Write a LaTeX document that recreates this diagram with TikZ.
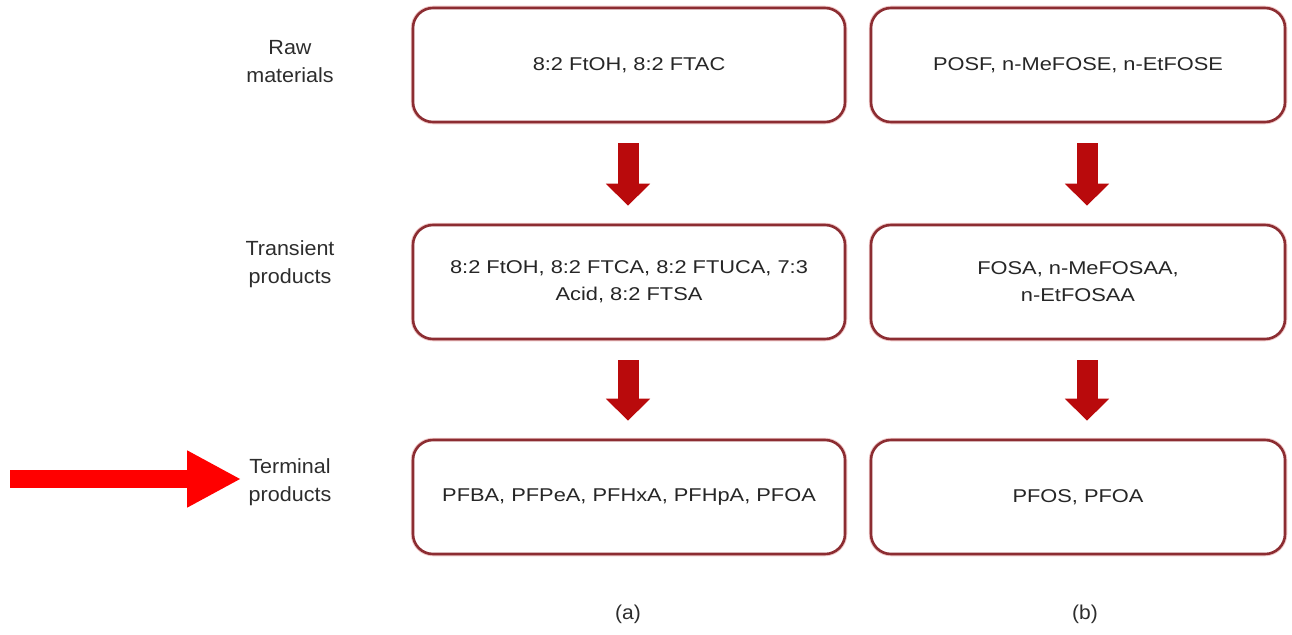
\documentclass[tikz,border=0pt]{standalone}
\usepackage{fontspec}
\setmainfont{Liberation Sans}
\newfontfamily\boxfont[FakeStretch=1.18]{Liberation Sans}
\newfontfamily\labelfont[FakeStretch=1.05]{Liberation Sans}
\usetikzlibrary{arrows.meta}
\definecolor{boxline}{RGB}{140,45,50}
\definecolor{boxhalo}{RGB}{240,200,200}
\definecolor{flowred}{RGB}{185,10,12}
\definecolor{labelgray}{RGB}{45,45,45}
\tikzset{
  stagebox/.style={draw=boxline, line width=2.6pt, rounded corners=20pt, fill=white,
    preaction={draw=boxhalo, line width=4.5pt}, minimum height=114pt,
    align=center, font=\boxfont\fontsize{18.5}{27}\selectfont, text=black!85, inner sep=0pt},
  rowlabel/.style={align=center, font=\labelfont\fontsize{20.5}{28}\selectfont, text=labelgray},
  flowarrow/.style={draw=flowred, line width=21pt,
    -{Triangle[width=43pt,length=22pt]}, shorten <=20pt, shorten >=18pt},
  caption/.style={font=\labelfont\fontsize{20}{24}\selectfont, text=labelgray}
}
\begin{document}
\begin{tikzpicture}[x=1pt,y=-1pt]
\useasboundingbox (0,0) rectangle (1292,634);
% boxes column a
\node[stagebox, minimum width=432pt] (a1) at (629,65) {8:2 FtOH, 8:2 FTAC};
\node[stagebox, minimum width=432pt] (a2) at (629,282) {8:2 FtOH, 8:2 FTCA, 8:2 FTUCA, 7:3\\Acid, 8:2 FTSA};
\node[stagebox, minimum width=432pt] (a3) at (629,497) {PFBA, PFPeA, PFHxA, PFHpA, PFOA};
% boxes column b
\node[stagebox, minimum width=414pt] (b1) at (1078,65) {POSF, n-MeFOSE, n-EtFOSE};
\node[stagebox, minimum width=414pt] (b2) at (1078,282) {FOSA, n-MeFOSAA,\\n-EtFOSAA};
\node[stagebox, minimum width=414pt] (b3) at (1078,497) {PFOS, PFOA};
% row labels
\node[rowlabel] (l1) at (290,62) {Raw\\materials};
\node[rowlabel] (l2) at (290,264) {Transient\\products};
\node[rowlabel] (l3) at (290,482) {Terminal\\products};
% captions
\node[caption] (ca) at (628,614) {(a)};
\node[caption] (cb) at (1085,614) {(b)};
% flow arrows
\draw[flowarrow] (a1.south -| 628,0) -- (a2.north -| 628,0);
\draw[flowarrow] (a2.south -| 628,0) -- (a3.north -| 628,0);
\draw[flowarrow] (b1.south -| 1087,0) -- (b2.north -| 1087,0);
\draw[flowarrow] (b2.south -| 1087,0) -- (b3.north -| 1087,0);
% pointer arrow
\coordinate (ptail) at (10,479);
\draw[draw=red, line width=18pt, -{Triangle[width=53pt,length=54pt]}, shorten >=4pt]
  (ptail) -- (ptail -| l3.west);
\end{tikzpicture}
\end{document}
